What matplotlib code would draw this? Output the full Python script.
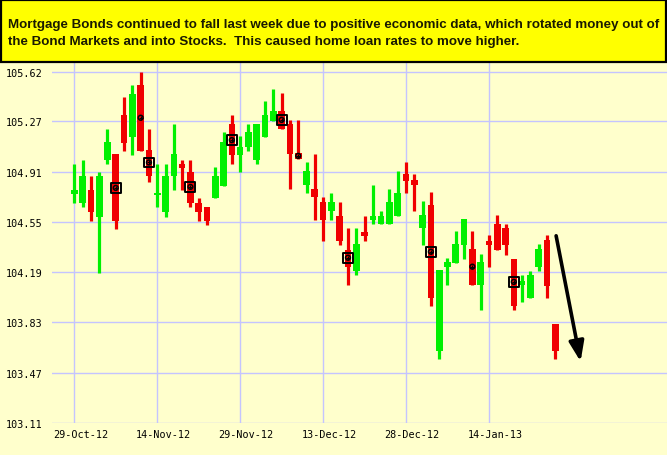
import matplotlib
matplotlib.use("Agg")
import matplotlib.pyplot as plt
import matplotlib.transforms as mtransforms
from matplotlib.patches import Rectangle

# daily OHLC, one per trading day (slot index = trading day)
opens = [104.747, 104.683, 104.781, 104.582, 104.989, 105.032, 105.312, 105.154, 105.527, 105.061,
         104.745, 104.618, 104.879, 104.967, 104.910, 104.688, 104.659, 104.719, 104.805, 105.247,
         105.027, 105.084, 104.991, 105.154, 105.271, 105.340, 105.250, 105.040, 104.814, 104.788,
         104.695, 104.628, 104.592, 104.350, 104.195, 104.480, 104.561, 104.532, 104.532, 104.592,
         104.891, 104.850, 104.506, 104.669, 103.626, 104.226, 104.255, 104.386, 104.353, 104.097,
         104.415, 104.538, 104.509, 104.287, 104.098, 104.005, 104.227, 104.418, 103.821]
highs = [104.967, 104.996, 104.881, 104.910, 105.218, 105.032, 105.441, 105.527, 105.620, 105.218,
         104.967, 104.967, 105.247, 104.996, 104.996, 104.724, 104.659, 104.939, 105.190, 105.312,
         105.161, 105.247, 105.247, 105.412, 105.498, 105.469, 105.280, 105.280, 104.975, 105.039,
         104.728, 104.757, 104.695, 104.508, 104.508, 104.592, 104.814, 104.628, 104.786, 104.917,
         104.977, 104.891, 104.697, 104.762, 104.202, 104.288, 104.482, 104.568, 104.482, 104.317,
         104.453, 104.597, 104.533, 104.287, 104.170, 104.199, 104.390, 104.454, 103.821]
lows = [104.683, 104.654, 104.554, 104.186, 104.963, 104.496, 105.056, 105.025, 105.056, 104.833,
        104.654, 104.582, 104.776, 104.776, 104.654, 104.554, 104.525, 104.719, 104.805, 104.963,
        104.905, 105.056, 104.963, 105.154, 105.271, 105.216, 104.785, 105.000, 104.755, 104.561,
        104.413, 104.561, 104.384, 104.095, 104.166, 104.413, 104.532, 104.532, 104.532, 104.592,
        104.757, 104.630, 104.386, 103.946, 103.566, 104.097, 104.255, 104.284, 104.097, 103.918,
        104.226, 104.347, 104.313, 103.916, 103.976, 104.005, 104.199, 104.005, 103.565]
closes = [104.781, 104.881, 104.618, 104.881, 105.118, 104.554, 105.113, 105.467, 105.056, 104.879,
          104.750, 104.881, 105.032, 104.936, 104.683, 104.618, 104.554, 104.881, 105.118, 105.027,
          105.089, 105.190, 105.247, 105.312, 105.340, 105.216, 105.035, 105.000, 104.917, 104.728,
          104.561, 104.695, 104.413, 104.226, 104.389, 104.446, 104.592, 104.592, 104.695, 104.759,
          104.843, 104.814, 104.597, 104.004, 104.202, 104.260, 104.389, 104.568, 104.097, 104.260,
          104.386, 104.347, 104.383, 103.945, 104.127, 104.170, 104.352, 104.093, 103.625]

# signal markers: (slot, price, boxed)
signal_slots = [5, 8, 9, 14, 19, 25, 27, 33, 43, 48, 53]
signal_prices = [104.793, 105.295, 104.975, 104.80, 105.135, 105.28, 105.022, 104.293, 104.336, 104.229, 104.12]
signal_boxed = [True, False, True, True, True, True, False, True, True, False, True]

date_slots = [0, 10, 20, 30, 40, 50]
date_labels = ["29-Oct-12", "14-Nov-12", "29-Nov-12", "13-Dec-12", "28-Dec-12", "14-Jan-13"]
price_ticks = [103.11, 103.47, 103.83, 104.19, 104.55, 104.91, 105.27, 105.62]

headline = ["Mortgage Bonds continued to fall last week due to positive economic data, which rotated money out of",
            "the Bond Markets and into Stocks.  This caused home loan rates to move higher."]

arrow_start = (58.1, 104.45)
arrow_end = (61.05, 103.55)

bg = "#FFFFCC"
up_col = "#00F000"
down_col = "#F00000"

W, H = 667, 456
fig = plt.figure(figsize=(W / 100, H / 100), dpi=100, facecolor=bg)
ax = fig.add_axes([52 / W, 32 / H, (W - 52) / W, (456 - 63 - 32) / H], facecolor=bg)

# candles
for i in range(len(opens)):
    o, h, l, c = opens[i], highs[i], lows[i], closes[i]
    col = up_col if c >= o else down_col
    ax.vlines(i, l, h, color=col, lw=2.3, zorder=3)
    bot = min(o, c)
    ht = max(abs(c - o), 0.012)
    ax.bar(i, ht, bottom=bot - (ht - abs(c - o)) / 2, width=0.8, color=col, lw=0, zorder=3)

# signal markers
for s, p, b in zip(signal_slots, signal_prices, signal_boxed):
    if b:
        ax.scatter(s, p, marker="s", s=50, facecolor="none", edgecolor="black", lw=1.4, zorder=4)
    ax.scatter(s, p, marker="o", s=12, facecolor="none", edgecolor="black", lw=1.1, zorder=5)
    ax.scatter(s, p, marker="+", s=8, color="black", lw=0.8, zorder=5)

ax.annotate("", xy=arrow_end, xytext=arrow_start,
            arrowprops=dict(arrowstyle="-|>,head_length=1.2,head_width=0.45", color="black", lw=2.6,
                            shrinkA=0, shrinkB=0), zorder=6)

ax.set_xlim(-2.69, 71.47)
ax.set_ylim(103.11, 105.694)
ax.set_yticks(price_ticks)
ax.set_yticklabels([f"{t:.2f}" for t in price_ticks])
ax.set_xticks(date_slots)
ax.set_xticklabels(date_labels)
ax.grid(True, color="#C4C4FF", lw=1.0, zorder=0)
ax.set_axisbelow(True)
for sp in ax.spines.values():
    sp.set_visible(False)
ax.tick_params(length=0, labelsize=7.3, labelcolor="black")
ax.tick_params(axis="y", pad=7)
ax.tick_params(axis="x", pad=4)
shift = mtransforms.ScaledTranslation(6 / 100, 0, fig.dpi_scale_trans)
for lab in ax.get_xticklabels():
    lab.set_family("DejaVu Sans Mono")
    lab.set_transform(lab.get_transform() + shift)
for lab in ax.get_yticklabels():
    lab.set_family("DejaVu Sans Mono")

# headline box
fig.patches.append(Rectangle((1 / W, 1 - 63 / H), (W - 2) / W, 62 / H, transform=fig.transFigure,
                             facecolor="#FFFF00", edgecolor="black", lw=1.6, zorder=10))
fig.text(8 / W, 1 - 25 / H, headline[0], fontsize=9.6, fontweight="bold", family="Liberation Sans",
         va="center", ha="left", color="#1A1A00", zorder=11)
fig.text(8 / W, 1 - 42 / H, headline[1], fontsize=9.6, fontweight="bold", family="Liberation Sans",
         va="center", ha="left", color="#1A1A00", zorder=11)

fig.savefig("out.png", dpi=100, facecolor=bg)
